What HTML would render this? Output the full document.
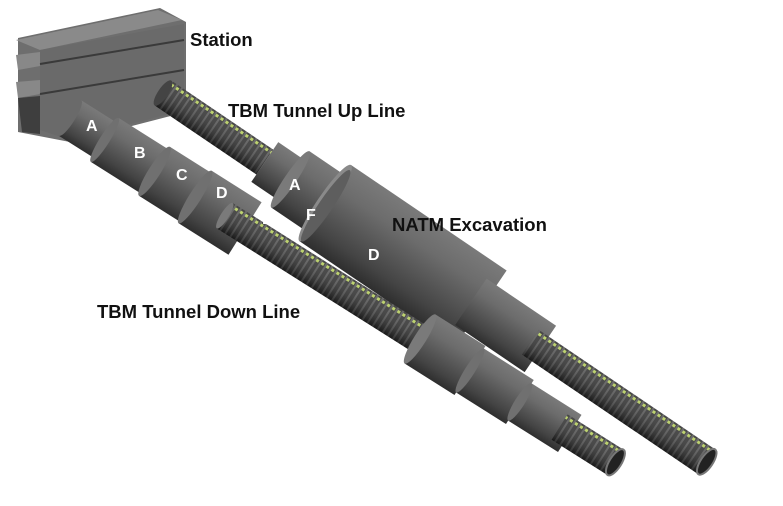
<!DOCTYPE html>
<html><head><style>
html,body{margin:0;padding:0;background:#fff;}
svg{display:block;}
text{font-family:"Liberation Sans",sans-serif;font-weight:bold;}
</style></head><body>
<svg width="783" height="506" viewBox="0 0 783 506" xmlns="http://www.w3.org/2000/svg">
<defs>
<linearGradient id="g" x1="0" y1="0" x2="0" y2="1">
<stop offset="0" stop-color="#7a7a7a"/><stop offset="0.3" stop-color="#6c6c6c"/><stop offset="0.8" stop-color="#444"/><stop offset="1" stop-color="#2e2e2e"/>
</linearGradient>
<pattern id="rib" width="6" height="40" patternUnits="userSpaceOnUse" x="0" y="-20">
<rect width="6" height="40" fill="#2e2e2e"/>
<rect x="0" y="0" width="2" height="40" fill="#555"/>
<rect x="2" y="7" width="3" height="3" fill="#b6cf5a"/>
</pattern>
<linearGradient id="shade" x1="0" y1="0" x2="0" y2="1">
<stop offset="0" stop-color="#fff" stop-opacity="0.12"/><stop offset="1" stop-color="#000" stop-opacity="0.45"/>
</linearGradient>
</defs>
<!-- Station -->
<polygon points="18,38 160,8 186,22 186,112 70,142 18,132" fill="#6e6e6e"/>
<polygon points="16,40 158,10 182,20 40,50" fill="#8a8a8a"/>
<polygon points="16,55 40,52 40,66 18,70" fill="#888"/>
<polygon points="16,82 40,80 40,94 18,98" fill="#888"/>
<polygon points="40,50 184,24 184,110 70,140 40,130" fill="#6a6a6a"/>
<line x1="40" y1="64" x2="184" y2="40" stroke="#3a3a3a" stroke-width="2"/>
<line x1="40" y1="94" x2="184" y2="70" stroke="#3a3a3a" stroke-width="2"/>
<polygon points="18,98 40,96 40,134 22,132" fill="#3e3e3e"/>
<!-- Up line -->
<g transform="translate(163,93) rotate(34.15)">
<rect x="0" y="-15" width="123" height="30" fill="url(#rib)"/>
<rect x="0" y="-15" width="123" height="30" fill="url(#shade)"/>
<ellipse cx="0" cy="0" rx="5" ry="15" fill="#444"/>
<rect x="123" y="-24" width="43" height="48" fill="url(#g)"/>
<rect x="154" y="-34" width="54" height="68" fill="url(#g)"/>
<ellipse cx="154" cy="0" rx="6" ry="34" fill="#7a7a7a"/>
<rect x="196" y="-46" width="188" height="92" fill="url(#g)"/>
<ellipse cx="196" cy="0" rx="8" ry="46" fill="#8a8a8a"/>
<ellipse cx="198" cy="2" rx="7" ry="43" fill="#5e5e5e"/>
<rect x="372" y="-28" width="84" height="56" fill="url(#g)"/>
<rect x="444" y="-15" width="213" height="30" fill="url(#rib)"/>
<rect x="444" y="-15" width="213" height="30" fill="url(#shade)"/>
<ellipse cx="657" cy="0" rx="6" ry="15" fill="#222" stroke="#777" stroke-width="2"/>
</g>
<!-- Down line -->
<g transform="translate(70,118) rotate(32.26)">
<rect x="0" y="-21" width="41" height="42" fill="url(#g)"/>
<ellipse cx="0" cy="0" rx="5" ry="21" fill="#6a6a6a"/>
<rect x="41" y="-26" width="59" height="52" fill="url(#g)"/>
<ellipse cx="41" cy="0" rx="5" ry="26" fill="#707070"/>
<rect x="100" y="-29" width="48" height="58" fill="url(#g)"/>
<ellipse cx="100" cy="0" rx="6" ry="29" fill="#707070"/>
<rect x="148" y="-31" width="59" height="62" fill="url(#g)"/>
<ellipse cx="148" cy="0" rx="6" ry="31" fill="#707070"/>
<rect x="183" y="-15" width="243" height="30" fill="url(#rib)"/>
<rect x="183" y="-15" width="243" height="30" fill="url(#shade)"/>
<ellipse cx="183" cy="0" rx="4" ry="15" fill="#7a7a7a"/>
<rect x="414" y="-29" width="59" height="58" fill="url(#g)"/>
<ellipse cx="414" cy="0" rx="6" ry="29" fill="#7a7a7a"/>
<rect x="473" y="-26" width="59" height="52" fill="url(#g)"/>
<ellipse cx="473" cy="0" rx="5" ry="26" fill="#707070"/>
<rect x="532" y="-22" width="59" height="44" fill="url(#g)"/>
<ellipse cx="532" cy="0" rx="5" ry="22" fill="#707070"/>
<rect x="579" y="-15" width="66" height="30" fill="url(#rib)"/>
<rect x="579" y="-15" width="66" height="30" fill="url(#shade)"/>
<ellipse cx="645" cy="0" rx="6" ry="15" fill="#222" stroke="#777" stroke-width="2"/>
</g>
<!-- labels -->
<text x="190" y="46" font-size="18.5" fill="#111">Station</text>
<text x="228" y="117" font-size="18.5" fill="#111">TBM Tunnel Up Line</text>
<text x="392" y="231" font-size="18.5" fill="#111">NATM Excavation</text>
<text x="97" y="318" font-size="18.5" fill="#111">TBM Tunnel Down Line</text>
<g font-size="16" fill="#fff">
<text x="86" y="131">A</text><text x="134" y="158">B</text><text x="176" y="180">C</text><text x="216" y="198">D</text>
<text x="289" y="190">A</text><text x="262" y="224">E</text><text x="306" y="220">F</text><text x="368" y="260">D</text>
</g>
</svg>
</body></html>
